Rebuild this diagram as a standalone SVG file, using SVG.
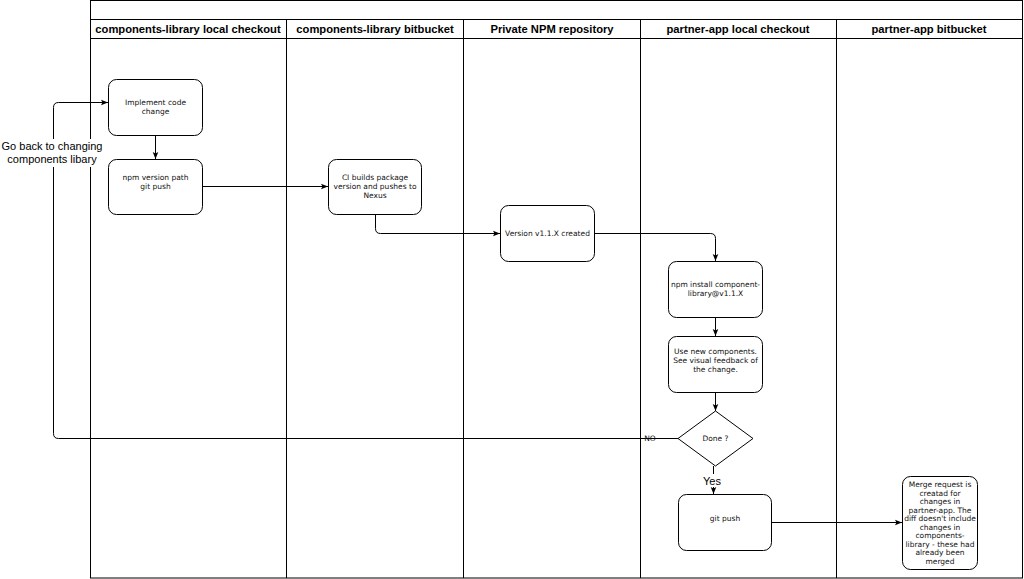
<svg xmlns="http://www.w3.org/2000/svg" width="1024" height="579" viewBox="0 0 1024 579">
<style>
.lane{fill:none;stroke:#000;stroke-width:1}
.hdr{font-family:"Liberation Sans",Arial,sans-serif;font-size:11.2px;font-weight:bold;text-anchor:middle;fill:#000}
.box{fill:#fff;stroke:#000;stroke-width:1}
.t{font-family:"DejaVu Sans",Verdana,sans-serif;font-size:7.5px;text-anchor:middle;fill:#111}
.e{fill:none;stroke:#000;stroke-width:1}
.lbl{font-family:"Liberation Sans",Arial,sans-serif;font-size:11px;text-anchor:middle;fill:#000}
</style>
<defs>
<marker id="arr" viewBox="0 0 10 10" refX="10" refY="5" markerWidth="7" markerHeight="7" orient="auto" markerUnits="userSpaceOnUse">
<path d="M0,1 L10,5 L0,9 L2,5 Z" fill="#000"/>
</marker>
</defs>
<rect width="1024" height="579" fill="#fff"/>
<g id="pool">
<rect class="lane" x="90.5" y="0.5" width="932" height="577.5"/>
<line class="lane" x1="90" y1="19.5" x2="1023" y2="19.5"/>
<line class="lane" x1="90" y1="38.5" x2="1023" y2="38.5"/>
<line class="lane" x1="286.5" y1="19" x2="286.5" y2="578"/>
<line class="lane" x1="463.5" y1="19" x2="463.5" y2="578"/>
<line class="lane" x1="640.5" y1="19" x2="640.5" y2="578"/>
<line class="lane" x1="836.5" y1="19" x2="836.5" y2="578"/>
<text class="hdr" x="188" y="33">components-library local checkout</text>
<text class="hdr" x="375" y="33">components-library bitbucket</text>
<text class="hdr" x="552" y="33">Private NPM repository</text>
<text class="hdr" x="738" y="33">partner-app local checkout</text>
<text class="hdr" x="929" y="33">partner-app bitbucket</text>
</g>
<g id="edges">
<path class="e" d="M155.5,135 V159" marker-end="url(#arr)"/>
<path class="e" d="M202,186.5 H328" marker-end="url(#arr)"/>
<path class="e" d="M375.5,214 V228.5 Q375.5,233.5 380.5,233.5 H500" marker-end="url(#arr)"/>
<path class="e" d="M594,233.5 H710.5 Q715.5,233.5 715.5,238.5 V261" marker-end="url(#arr)"/>
<path class="e" d="M715.5,317 V336" marker-end="url(#arr)"/>
<path class="e" d="M715.5,392 V411" marker-end="url(#arr)"/>
<path class="e" d="M713.5,466 V494" marker-end="url(#arr)"/>
<path class="e" d="M678,438.5 H58.5 Q53.5,438.5 53.5,433.5 V107.5 Q53.5,102.5 58.5,102.5 H108" marker-end="url(#arr)"/>
<path class="e" d="M771,522.5 H902" marker-end="url(#arr)"/>
<rect x="700" y="474" width="26" height="13" fill="#fff"/>
<text class="lbl" x="712" y="485">Yes</text>
<text class="t" x="650" y="441">NO</text>
<rect x="0" y="139" width="104" height="28" fill="#fff"/>
<text class="lbl" x="52" y="150">Go back to changing</text>
<text class="lbl" x="52" y="163">components libary</text>
</g>
<g id="n1">
<rect class="box" x="108.5" y="79.5" width="94" height="56" rx="8"/>
<text class="t" x="155.5" y="105">Implement code</text>
<text class="t" x="155.5" y="114">change</text>
</g>
<g id="n2">
<rect class="box" x="108.5" y="159.5" width="94" height="55" rx="8"/>
<text class="t" x="155.5" y="180">npm version path</text>
<text class="t" x="155.5" y="189">git push</text>
</g>
<g id="n3">
<rect class="box" x="328.5" y="159.5" width="93" height="55" rx="8"/>
<text class="t" x="375" y="180">CI builds package</text>
<text class="t" x="375" y="189">version and pushes to</text>
<text class="t" x="375" y="198">Nexus</text>
</g>
<g id="n4">
<rect class="box" x="500.5" y="205.5" width="94" height="56" rx="8"/>
<text class="t" x="547.5" y="236">Version v1.1.X created</text>
</g>
<g id="n5">
<rect class="box" x="668.5" y="261.5" width="94" height="56" rx="8"/>
<text class="t" x="715.5" y="287">npm install component-</text>
<text class="t" x="715.5" y="296">library@v1.1.X</text>
</g>
<g id="n6">
<rect class="box" x="668.5" y="336.5" width="94" height="56" rx="8"/>
<text class="t" x="715.5" y="354">Use new components.</text>
<text class="t" x="715.5" y="363">See visual feedback of</text>
<text class="t" x="715.5" y="372">the change.</text>
</g>
<g id="n7">
<path class="box" d="M715.5,411 L753,438.5 L715.5,466 L678,438.5 Z"/>
<text class="t" x="715.5" y="441">Done ?</text>
</g>
<g id="n8">
<rect class="box" x="678.5" y="494.5" width="93" height="56" rx="8"/>
<text class="t" x="725" y="521">git push</text>
</g>
<g id="n9">
<rect class="box" x="902.5" y="476.5" width="75" height="93" rx="8"/>
<text class="t" x="940" y="487">Merge request is</text>
<text class="t" x="940" y="495.5">creatad for</text>
<text class="t" x="940" y="504">changes in</text>
<text class="t" x="940" y="512.5">partner-app.  The</text>
<text class="t" x="940" y="521">diff doesn't include</text>
<text class="t" x="940" y="529.5">changes in</text>
<text class="t" x="940" y="538">components-</text>
<text class="t" x="940" y="546.5">library - these had</text>
<text class="t" x="940" y="555">already been</text>
<text class="t" x="940" y="563.5">merged</text>
</g>
</svg>
